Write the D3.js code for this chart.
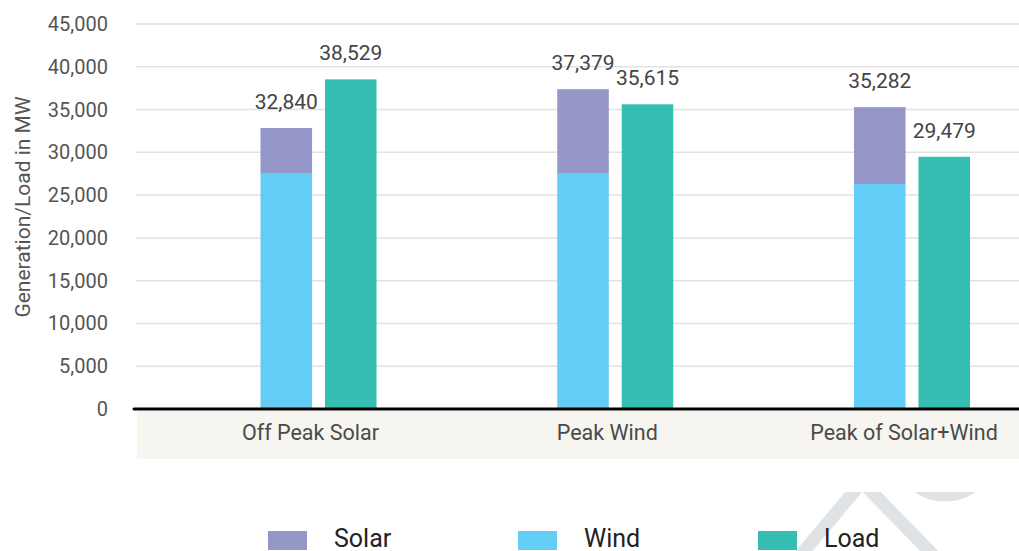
<!DOCTYPE html>
<html>
<head>
<meta charset="utf-8">
<script src="https://cdn.jsdelivr.net/npm/d3@7"></script>
<style>
  html, body { margin: 0; padding: 0; background: #fff; }
  svg { display: block; font-family: Roboto, "Noto Sans", sans-serif; }
</style>
</head>
<body>
<svg id="chart" width="1019" height="551"></svg>
<script>
// ---- data ----
const categories = ["Off Peak Solar", "Peak Wind", "Peak of Solar+Wind"];
const windValues = [27500, 27500, 26300];
const solarValues = [5340, 9879, 8982];
const loadValues = [38529, 35615, 29479];
const stackTotals = [32840, 37379, 35282];
const yTicks = [0, 5000, 10000, 15000, 20000, 25000, 30000, 35000, 40000, 45000];
const legendItems = ["Solar", "Wind", "Load"];
const colors = { Solar: "#9597c9", Wind: "#64cdf6", Load: "#37beb3" };

// ---- layout ----
const W = 1019, H = 551;
const plotLeft = 136, plotRight = 1019;
const legendX = [268, 518, 758];
const svg = d3.select("#chart");

const y = d3.scaleLinear().domain([0, 45000]).range([409, 24]);
const x = d3.scalePoint().domain(categories).range([318.5, 912]);
const inner = d3.scaleBand().domain(["gen", "load"]).range([-58, 58]).paddingInner(0.2);
const fmt = d3.format(",");

// watermark (decorative)
svg.append("clipPath").attr("id", "wmclip").append("rect").attr("x", 700).attr("y", 492).attr("width", 319).attr("height", 60);
const wm = svg.append("g").attr("fill", "none").attr("stroke", "#dfe3e5").attr("stroke-width", 13)
  .attr("clip-path", "url(#wmclip)");
wm.append("path").attr("d", "M800,556 L862,482");
wm.append("path").attr("d", "M862,482 L934,556");
wm.append("path").attr("d", "M906,470 A40,32 0 0 0 984,470");

// gridlines
svg.append("g").selectAll("line").data(yTicks.filter(d => d > 0)).join("line")
  .attr("x1", plotLeft).attr("x2", plotRight)
  .attr("y1", d => y(d)).attr("y2", d => y(d))
  .attr("stroke", "#e2e2e2").attr("stroke-width", 1.5);

// category band background
svg.append("rect").attr("x", 137).attr("y", 411).attr("width", plotRight - 137).attr("height", 48)
  .attr("fill", "#f6f5f0");

// y tick labels
svg.append("g").selectAll("text").data(yTicks).join("text")
  .attr("x", 108).attr("y", d => y(d)).attr("dy", "0.35em")
  .attr("text-anchor", "end").attr("font-size", 20).attr("fill", "#555")
  .text(d => fmt(d));

// y axis title
svg.append("text")
  .attr("transform", "translate(30,207) rotate(-90)")
  .attr("text-anchor", "middle").attr("font-size", 21).attr("fill", "#555")
  .text("Generation/Load in MW");

// bars
const gBars = svg.append("g");
categories.forEach((c, i) => {
  const gx = x(c) + inner("gen");
  gBars.append("rect").attr("x", gx).attr("width", inner.bandwidth())
    .attr("y", y(windValues[i])).attr("height", y(0) - y(windValues[i]))
    .attr("fill", colors.Wind);
  gBars.append("rect").attr("x", gx).attr("width", inner.bandwidth())
    .attr("y", y(windValues[i] + solarValues[i])).attr("height", y(windValues[i]) - y(windValues[i] + solarValues[i]))
    .attr("fill", colors.Solar);
  const lx = x(c) + inner("load");
  gBars.append("rect").attr("x", lx).attr("width", inner.bandwidth())
    .attr("y", y(loadValues[i])).attr("height", y(0) - y(loadValues[i]))
    .attr("fill", colors.Load);
  // value labels
  gBars.append("text").attr("x", gx + inner.bandwidth() / 2).attr("y", y(stackTotals[i]) - 19)
    .attr("text-anchor", "middle").attr("font-size", 21).attr("fill", "#444")
    .text(fmt(stackTotals[i]));
  gBars.append("text").attr("x", lx + inner.bandwidth() / 2).attr("y", y(loadValues[i]) - 19)
    .attr("text-anchor", "middle").attr("font-size", 21).attr("fill", "#444")
    .text(fmt(loadValues[i]));
});

// x axis line
svg.append("line").attr("x1", 134).attr("x2", plotRight).attr("y1", y(0)).attr("y2", y(0))
  .attr("stroke", "#000").attr("stroke-width", 3).attr("stroke-linecap", "round");

// category labels
svg.append("g").selectAll("text").data(categories).join("text")
  .attr("x", d => x(d) - 8).attr("y", 440)
  .attr("text-anchor", "middle").attr("font-size", 21.5).attr("fill", "#4a4a4a")
  .text(d => d);

// legend
const leg = svg.append("g").selectAll("g").data(legendItems).join("g")
  .attr("transform", (d, i) => `translate(${legendX[i]},531)`);
leg.append("rect").attr("width", 39).attr("height", 19).attr("fill", d => colors[d]);
leg.append("text").attr("x", 66).attr("y", 15.5).attr("font-size", 25).attr("fill", "#222").text(d => d);
</script>
</body>
</html>
